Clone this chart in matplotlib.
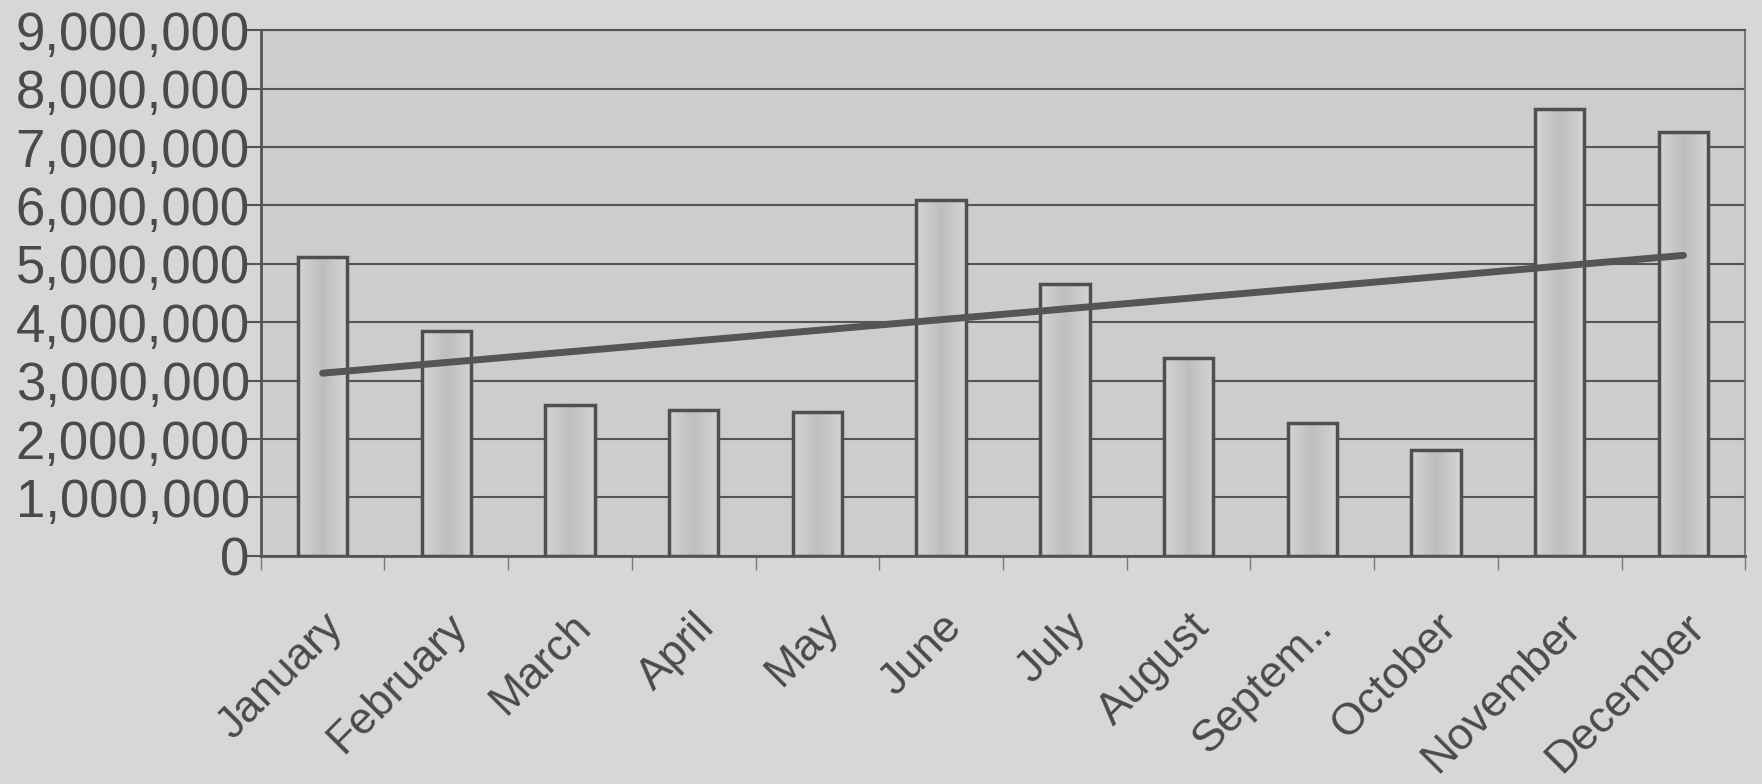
import numpy as np
import matplotlib.pyplot as plt
from matplotlib.ticker import FuncFormatter, FixedLocator
from matplotlib.transforms import ScaledTranslation

months = ['January', 'February', 'March', 'April', 'May', 'June', 'July',
          'August', 'Septem..', 'October', 'November', 'December']
values = [5120000, 3850000, 2580000, 2500000, 2460000, 6100000,
          4650000, 3390000, 2270000, 1810000, 7650000, 7250000]

plt.rcParams['font.family'] = ['Liberation Sans', 'DejaVu Sans']

fig = plt.figure(figsize=(17.62, 7.84), dpi=100)
fig.patch.set_facecolor('#d5d7d9')
ax = fig.add_axes([0.148, 0.291, 0.8425, 0.6705])
ax.set_facecolor('#cbcdcf')

x = np.arange(len(months))
bars = ax.bar(x, values, width=0.4, color='none', edgecolor='#4f4f4f', linewidth=2.5, zorder=3)

# soft gradient inside each bar (lighter at the edges, darker in the middle)
grad = np.abs(np.linspace(-1, 1, 64))[None, :]
gcmap = plt.cm.colors.LinearSegmentedColormap.from_list('g', ['#bcbec0', '#d2d4d6'])
for r in bars:
    bx, by = r.get_x(), r.get_y()
    ax.imshow(grad, extent=(bx, bx + r.get_width(), by, by + r.get_height()),
              cmap=gcmap, vmin=0, vmax=1, aspect='auto', zorder=2.5,
              interpolation='bilinear')

# linear trend line
k, b = np.polyfit(x, values, 1)
ax.plot(x, k * x + b, color='#555555', linewidth=5, solid_capstyle='round', zorder=4)

ax.set_xlim(-0.5, len(months) - 0.5)
ax.set_ylim(0, 9000000)
ax.set_yticks(np.arange(0, 9000001, 1000000))
ax.yaxis.set_major_formatter(FuncFormatter(lambda v, p: f'{int(v):,}'))
ax.grid(axis='y', color='#555555', linewidth=1.5, zorder=1)

ax.set_xticks(x)
ax.set_xticklabels(months, rotation=45, ha='right', va='top', rotation_mode='anchor')
# nudge the rotated month labels a little to the left
shift = ScaledTranslation(-0.12, 0, fig.dpi_scale_trans)
for lbl in ax.get_xticklabels():
    lbl.set_transform(lbl.get_transform() + shift)
ax.xaxis.set_minor_locator(FixedLocator(np.arange(-0.5, len(months), 1)))
ax.tick_params(axis='x', which='major', length=0, pad=36, labelsize=32, labelcolor='#4a4a4a')
ax.tick_params(axis='x', which='minor', length=10, width=1, color='#777777', direction='out')
ax.tick_params(axis='y', length=10, width=1.5, color='#555555', pad=-2, labelsize=38, labelcolor='#4a4a4a')

for s in ['left', 'bottom']:
    ax.spines[s].set_color('#555555')
    ax.spines[s].set_linewidth(2)
ax.spines['top'].set_color('#555555')
ax.spines['top'].set_linewidth(1.5)
ax.spines['right'].set_color('#777777')
ax.spines['right'].set_linewidth(1.5)

plt.savefig('out.png', dpi=100, facecolor=fig.get_facecolor())
